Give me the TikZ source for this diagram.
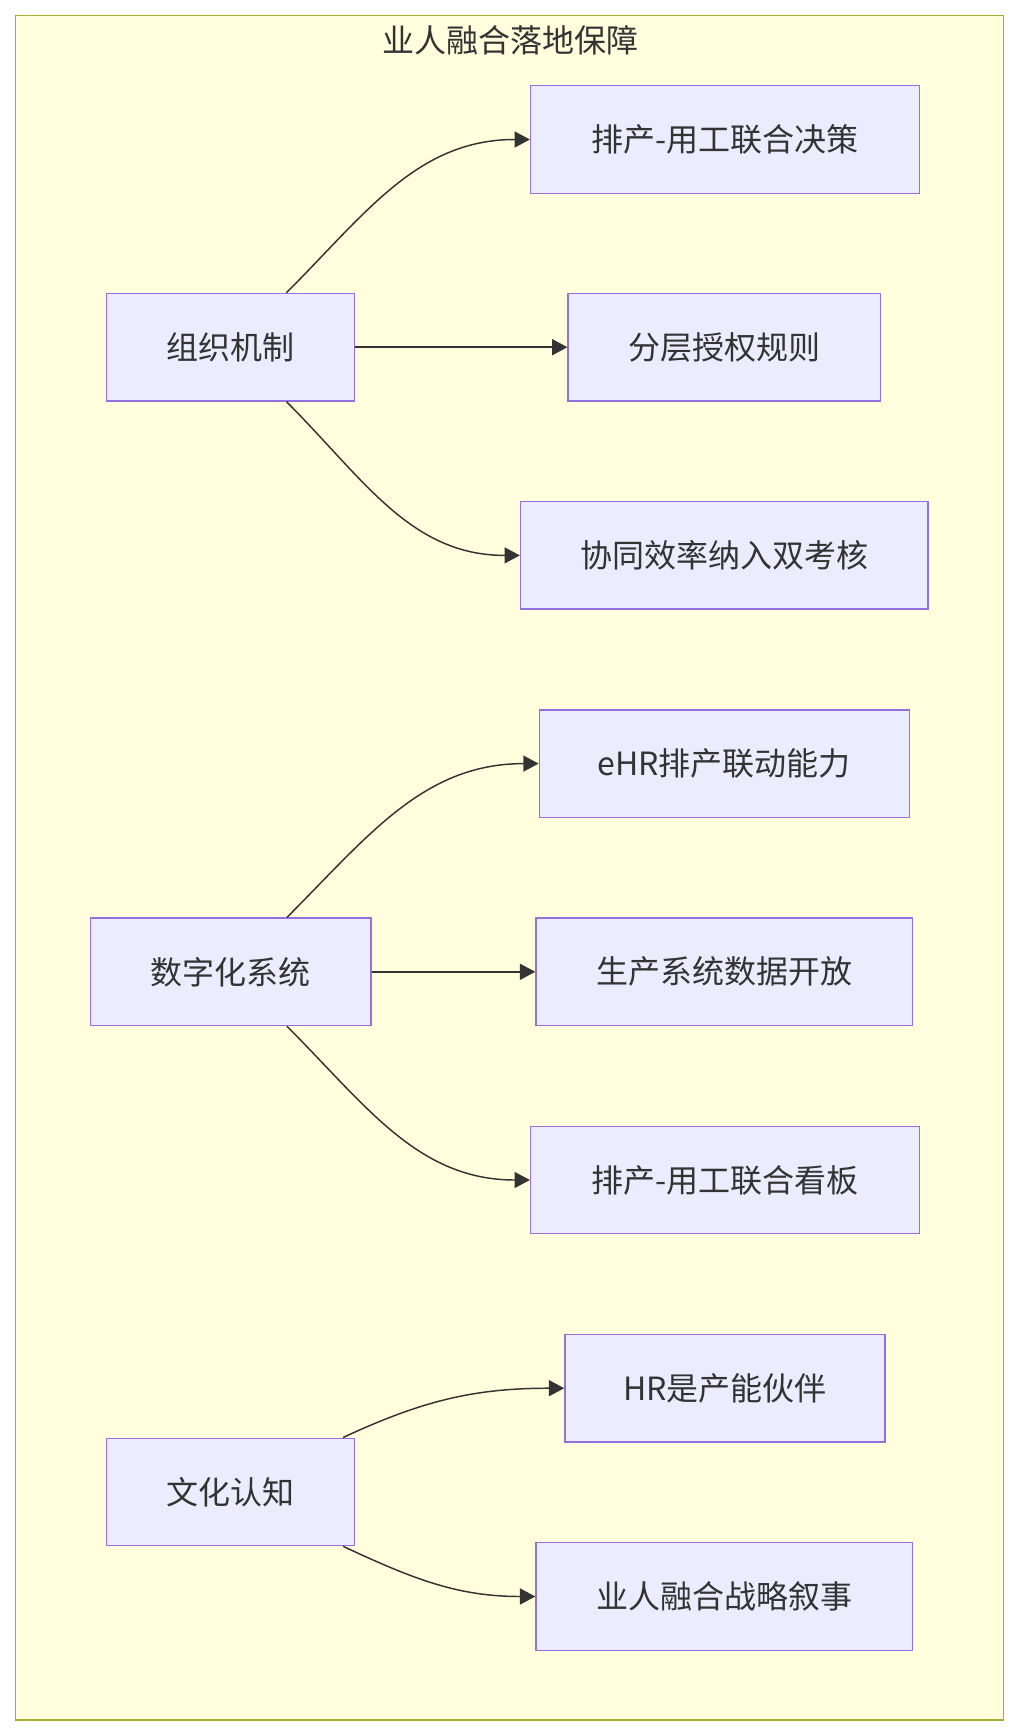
\documentclass[tikz,border=0pt]{standalone}
\usepackage{fontspec}
\setmainfont{Noto Sans CJK SC}
\usetikzlibrary{positioning, arrows.meta}
\definecolor{nodefill}{HTML}{ECECFF}
\definecolor{nodeline}{HTML}{9370DB}
\definecolor{groupfill}{HTML}{FFFFDE}
\definecolor{groupline}{HTML}{AAAA33}
\definecolor{edgecol}{HTML}{333333}

\begin{document}
\begin{tikzpicture}[
    x=0.75pt, y=-0.75pt,
    >={Triangle[length=11.5pt, width=12pt]},
    every node/.style={font=\fontsize{24pt}{28pt}\selectfont, text=edgecol},
    group/.style={draw=groupline, fill=groupfill, line width=1pt, inner sep=0pt, minimum width=741pt, minimum height=1278.4pt},
    box/.style={draw=nodeline, fill=nodefill, line width=1pt, inner sep=0pt, minimum height=80.6pt},
    arrow/.style={->, draw=edgecol, line width=1.1pt},
]
\useasboundingbox (0,0) rectangle (1020,1736);

% ── Group frame ──
\node[group] (frame) at (509.5,867.8) {};
\node (title) at (510,40) {业人融合落地保障};

% ── Left column ──
\node[box, minimum width=186pt] (org) at (230.4,347.2) {组织机制};
\node[box, minimum width=210.2pt] (digi) at (230.9,971.8) {数字化系统};
\node[box, minimum width=186pt] (cult) at (230.4,1491.9) {文化认知};

% ── Organisation targets ──
\node[box, minimum width=291.5pt] (dec) at (724.9,139.5) {排产-用工联合决策};
\node[box, minimum width=234.3pt] (auth) at (724.3,347.2) {分层授权规则};
\node[box, minimum width=305.7pt] (eval) at (724.3,555.4) {协同效率纳入双考核};

% ── Digital targets ──
\node[box, minimum width=277.5pt] (ehr) at (724.3,763.6) {eHR排产联动能力};
\node[box, minimum width=282.5pt] (open) at (724.3,971.8) {生产系统数据开放};
\node[box, minimum width=291.5pt] (board) at (724.9,1180) {排产-用工联合看板};

% ── Culture targets ──
\node[box, minimum width=240pt] (partner) at (724.9,1388.2) {HR是产能伙伴};
\node[box, minimum width=282.5pt] (story) at (724.3,1596.5) {业人融合战略叙事};

% ── Arrows ──
\draw[arrow] ([xshift=42pt]org.north) to[out=45, in=180] (dec.west);
\draw[arrow] (org.east) -- (auth.west);
\draw[arrow] ([xshift=42pt]org.south) to[out=-45, in=180] (eval.west);

\draw[arrow] ([xshift=42pt]digi.north) to[out=45, in=180] (ehr.west);
\draw[arrow] (digi.east) -- (open.west);
\draw[arrow] ([xshift=42pt]digi.south) to[out=-45, in=180] (board.west);

\draw[arrow] ([xshift=84.5pt]cult.north) to[out=25, in=180] (partner.west);
\draw[arrow] ([xshift=84.5pt]cult.south) to[out=-25, in=180] (story.west);

\end{tikzpicture}
\end{document}
